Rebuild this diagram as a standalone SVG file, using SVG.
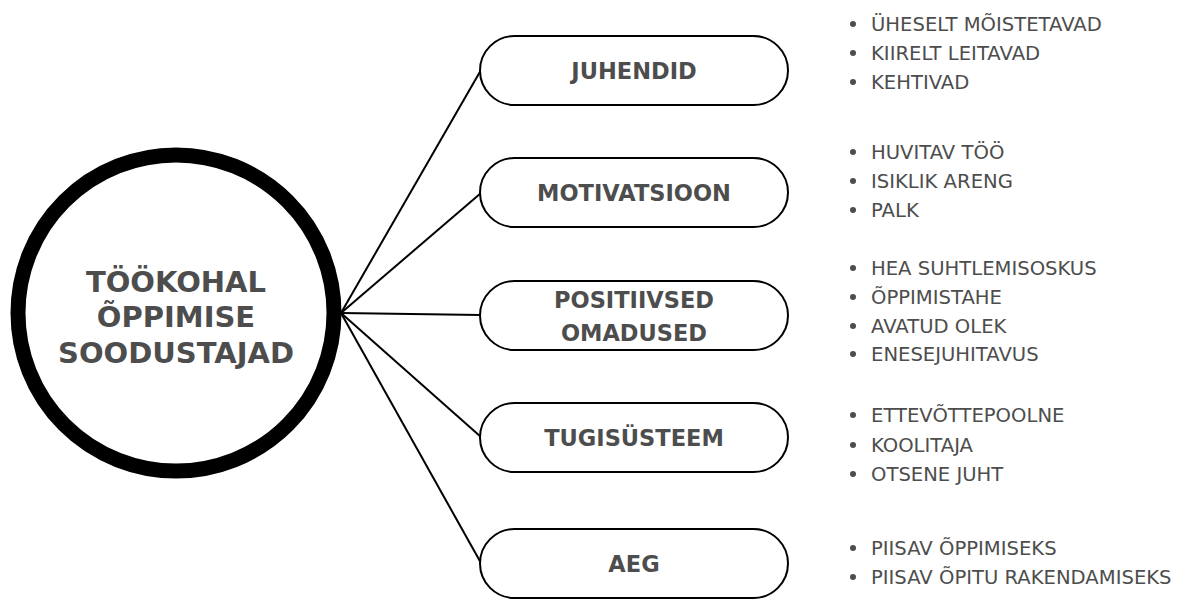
<svg xmlns="http://www.w3.org/2000/svg" width="1187" height="599" viewBox="0 0 1187 599">
<style>
.pill{fill:#fff;stroke:#000;stroke-width:2}
.pt{font-family:"DejaVu Sans",Verdana,sans-serif;font-weight:bold;font-size:22.5px;fill:#4d4d4d;text-anchor:middle}
.ct{font-family:"DejaVu Sans",Verdana,sans-serif;font-weight:bold;font-size:29px;fill:#4d4d4d;text-anchor:middle}
.bt{font-family:"DejaVu Sans",Verdana,sans-serif;font-size:19.6px;fill:#4d4d4d}
.dot{fill:#4d4d4d}
.con{stroke:#000;stroke-width:2;fill:none}
</style>
<rect width="1187" height="599" fill="#fff"/>
<g id="connectors">
<line class="con" x1="341" y1="313" x2="481" y2="70"/>
<line class="con" x1="341" y1="313" x2="481" y2="193"/>
<line class="con" x1="341" y1="313" x2="481" y2="315"/>
<line class="con" x1="341" y1="313" x2="481" y2="437"/>
<line class="con" x1="341" y1="313" x2="481" y2="563"/>
</g>
<g id="center">
<circle cx="176" cy="313" r="158" fill="#fff" stroke="#000" stroke-width="15"/>
<text class="ct" x="176" y="292">TÖÖKOHAL</text>
<text class="ct" x="176" y="327">ÕPPIMISE</text>
<text class="ct" x="176" y="363">SOODUSTAJAD</text>
</g>
<g id="juhendid">
<rect class="pill" x="480" y="36" width="308" height="69" rx="34.5"/>
<text class="pt" x="634" y="79">JUHENDID</text>
</g>
<g id="motivatsioon">
<rect class="pill" x="480" y="158" width="308" height="69" rx="34.5"/>
<text class="pt" x="634" y="201">MOTIVATSIOON</text>
</g>
<g id="positiivsed">
<rect class="pill" x="480" y="281" width="308" height="69" rx="34.5"/>
<text class="pt" x="634" y="308">POSITIIVSED</text>
<text class="pt" x="634" y="341">OMADUSED</text>
</g>
<g id="tugisysteem">
<rect class="pill" x="480" y="403" width="308" height="69" rx="34.5"/>
<text class="pt" x="634" y="446">TUGISÜSTEEM</text>
</g>
<g id="aeg">
<rect class="pill" x="480" y="529" width="308" height="69" rx="34.5"/>
<text class="pt" x="634" y="572">AEG</text>
</g>
<g id="list-juhendid">
<circle class="dot" cx="853" cy="24" r="3"/><text class="bt" x="871" y="31">ÜHESELT MÕISTETAVAD</text>
<circle class="dot" cx="853" cy="53" r="3"/><text class="bt" x="871" y="60">KIIRELT LEITAVAD</text>
<circle class="dot" cx="853" cy="82" r="3"/><text class="bt" x="871" y="89">KEHTIVAD</text>
</g>
<g id="list-motivatsioon">
<circle class="dot" cx="853" cy="152" r="3"/><text class="bt" x="871" y="159">HUVITAV TÖÖ</text>
<circle class="dot" cx="853" cy="181" r="3"/><text class="bt" x="871" y="188">ISIKLIK ARENG</text>
<circle class="dot" cx="853" cy="210" r="3"/><text class="bt" x="871" y="217">PALK</text>
</g>
<g id="list-positiivsed">
<circle class="dot" cx="853" cy="268" r="3"/><text class="bt" x="871" y="275">HEA SUHTLEMISOSKUS</text>
<circle class="dot" cx="853" cy="297" r="3"/><text class="bt" x="871" y="304">ÕPPIMISTAHE</text>
<circle class="dot" cx="853" cy="326" r="3"/><text class="bt" x="871" y="333">AVATUD OLEK</text>
<circle class="dot" cx="853" cy="354" r="3"/><text class="bt" x="871" y="361">ENESEJUHITAVUS</text>
</g>
<g id="list-tugisysteem">
<circle class="dot" cx="853" cy="415" r="3"/><text class="bt" x="871" y="422">ETTEVÕTTEPOOLNE</text>
<circle class="dot" cx="853" cy="445" r="3"/><text class="bt" x="871" y="452">KOOLITAJA</text>
<circle class="dot" cx="853" cy="474" r="3"/><text class="bt" x="871" y="481">OTSENE JUHT</text>
</g>
<g id="list-aeg">
<circle class="dot" cx="853" cy="548" r="3"/><text class="bt" x="871" y="555">PIISAV ÕPPIMISEKS</text>
<circle class="dot" cx="853" cy="577" r="3"/><text class="bt" x="871" y="584">PIISAV ÕPITU RAKENDAMISEKS</text>
</g>
</svg>
